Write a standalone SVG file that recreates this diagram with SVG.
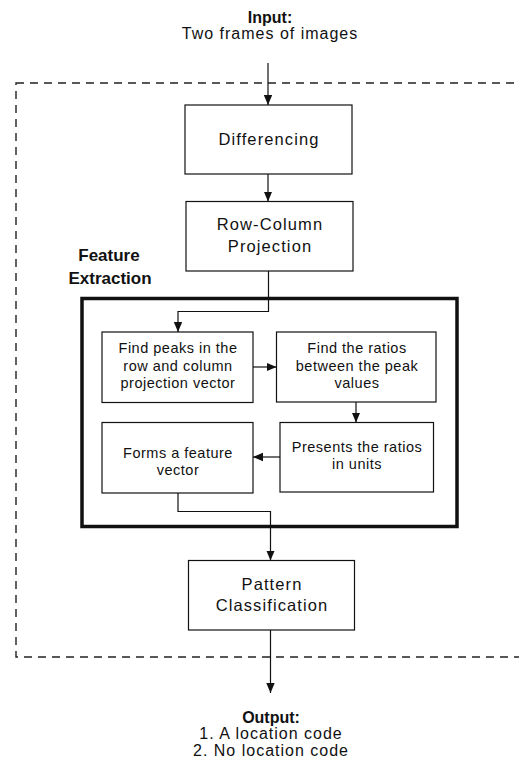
<svg xmlns="http://www.w3.org/2000/svg" width="519" height="770" viewBox="0 0 519 770">
<defs>
  <marker id="ah" markerUnits="userSpaceOnUse" markerWidth="10" markerHeight="10" viewBox="0 0 10 10" refX="10" refY="5" orient="auto">
    <path d="M0,0.8 L10,5 L0,9.2 Z" fill="#111"/>
  </marker>
  <style>
    text { font-family: "Liberation Sans", Arial, sans-serif; fill: #111; }
    .big { font-size: 16.5px; letter-spacing: 1.1px; text-anchor: middle; }
    .small { font-size: 14.5px; letter-spacing: 0.5px; text-anchor: middle; }
    .io { font-size: 16px; letter-spacing: 1px; text-anchor: middle; }
    .bold { font-weight: bold; text-anchor: middle; }
    .box { fill: #fff; stroke: #111; stroke-width: 1.2; }
    .conn { fill: none; stroke: #111; stroke-width: 1.2; }
  </style>
</defs>
<rect width="519" height="770" fill="#fff"/>

<g id="system-boundary">
  <rect x="16" y="83" width="540" height="574" fill="none" stroke="#222" stroke-width="1.4" stroke-dasharray="8 6"/>
</g>

<g id="input">
  <text class="bold" x="270" y="23" font-size="16">Input:</text>
  <text class="io" x="270" y="39">Two frames of images</text>
</g>

<g id="feature-extraction">
  <rect x="82" y="298.5" width="375" height="228" fill="none" stroke="#111" stroke-width="3.5"/>
  <text class="bold" x="109" y="261" font-size="17">Feature</text>
  <text class="bold" x="110" y="284" font-size="17">Extraction</text>
</g>

<g id="differencing">
  <rect class="box" x="185" y="105" width="167" height="69"/>
  <text class="big" x="269" y="145">Differencing</text>
</g>

<g id="row-column-projection">
  <rect class="box" x="186" y="201.5" width="167" height="69.5"/>
  <text class="big" x="270" y="230">Row-Column</text>
  <text class="big" x="270" y="252">Projection</text>
</g>

<g id="find-peaks">
  <rect class="box" x="102" y="332" width="151" height="70.5"/>
  <text class="small" x="178" y="353">Find peaks in the</text>
  <text class="small" x="178" y="370.5">row and column</text>
  <text class="small" x="178" y="388">projection vector</text>
</g>

<g id="find-ratios">
  <rect class="box" x="276.5" y="332" width="159.5" height="70"/>
  <text class="small" x="357" y="353">Find the ratios</text>
  <text class="small" x="357" y="370.5">between the peak</text>
  <text class="small" x="357" y="388">values</text>
</g>

<g id="presents-ratios">
  <rect class="box" x="280" y="422.5" width="153.5" height="69.5"/>
  <text class="small" x="357" y="451.5">Presents the ratios</text>
  <text class="small" x="357" y="469">in units</text>
</g>

<g id="forms-vector">
  <rect class="box" x="102" y="422.5" width="151" height="70.5"/>
  <text class="small" x="178" y="458">Forms a feature</text>
  <text class="small" x="178" y="475">vector</text>
</g>

<g id="pattern-classification">
  <rect class="box" x="188.5" y="560.5" width="166" height="69.5"/>
  <text class="big" x="272" y="590">Pattern</text>
  <text class="big" x="272" y="611">Classification</text>
</g>

<g id="output">
  <text class="bold" x="271" y="722.5" font-size="16">Output:</text>
  <text class="io" x="271" y="739">1. A location code</text>
  <text class="io" x="271" y="756">2. No location code</text>
</g>

<g id="connectors">
  <path class="conn" d="M268 63 V105" marker-end="url(#ah)"/>
  <path class="conn" d="M268 174 V201.5" marker-end="url(#ah)"/>
  <path class="conn" d="M268.5 271 V311.5 H178 V332" marker-end="url(#ah)"/>
  <path class="conn" d="M253 367 H276.5" marker-end="url(#ah)"/>
  <path class="conn" d="M356 402 V422.5" marker-end="url(#ah)"/>
  <path class="conn" d="M280 457 H253" marker-end="url(#ah)"/>
  <path class="conn" d="M178 493 V511.5 H270.5 V560.5" stroke-width="1.8" marker-end="url(#ah)"/>
  <path class="conn" d="M270.5 630 V693" marker-end="url(#ah)"/>
</g>
</svg>
